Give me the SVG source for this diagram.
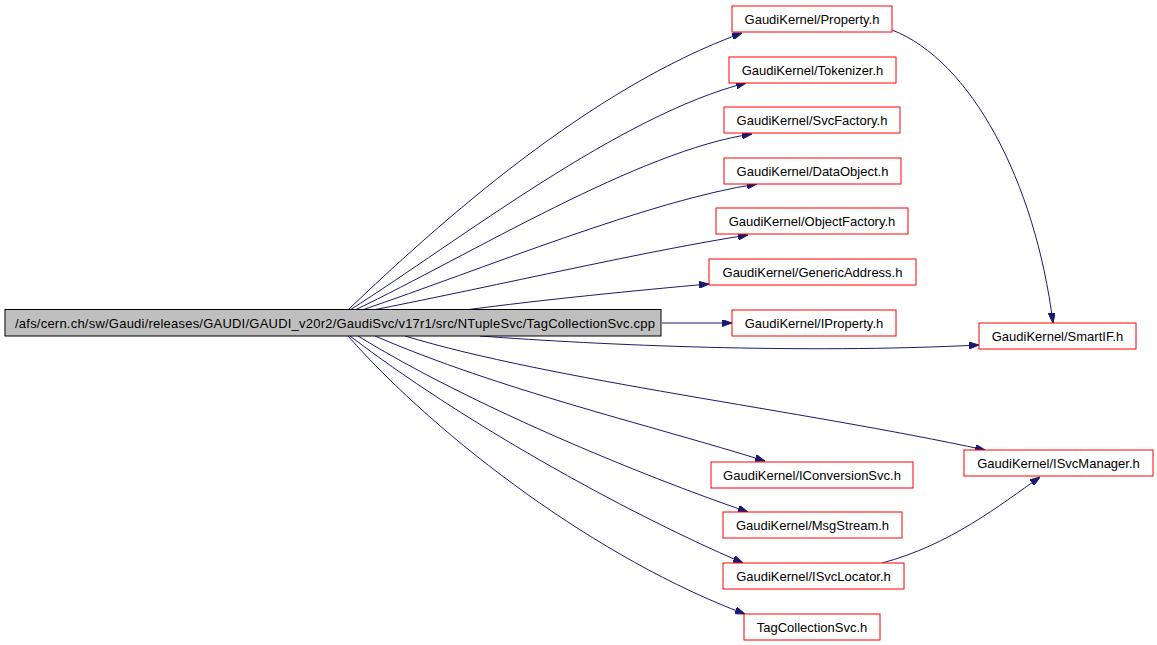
<svg xmlns="http://www.w3.org/2000/svg" width="1157" height="645" viewBox="0 0 1157 645">
<style>
.n rect{fill:#ffffff;stroke:#ff0000;stroke-width:1}
.m rect{fill:#bfbfbf;stroke:#000000;stroke-width:1}
text{font-family:"Liberation Sans",Arial,sans-serif;font-size:13px;fill:#000000;text-anchor:middle}
.e path{fill:none;stroke:#191970;stroke-width:1;marker-end:url(#ah)}
</style>
<defs>
<marker id="ah" viewBox="0 0 10 7" refX="10" refY="3.5" markerWidth="10" markerHeight="7" markerUnits="userSpaceOnUse" orient="auto">
<path d="M0,0 L10,3.5 L0,7 z" fill="#191970" stroke="#191970"/>
</marker>
</defs>
<rect width="1157" height="645" fill="#ffffff"/>
<g class="e" id="edges">
<path d="M348,310 C440,222 590,88 742,33"/>
<path d="M350,310 C460,240 620,115 746,83"/>
<path d="M355,310 C470,255 640,150 752,134"/>
<path d="M362,310 C480,270 650,200 757,184"/>
<path d="M373,310 C500,285 650,250 748,235"/>
<path d="M465,310 C540,300 640,290 709,284"/>
<path d="M662,323 L732,323"/>
<path d="M480,336 C600,345 800,354 979,345"/>
<path d="M405,336 C550,380 800,410 985,450"/>
<path d="M375,336 C500,390 650,425 765,461"/>
<path d="M358,336 C470,405 640,475 748,512"/>
<path d="M350,336 C460,420 620,510 743,563"/>
<path d="M348,336 C440,440 600,560 745,614"/>
<path d="M892,30 C970,60 1035,180 1053,323"/>
<path d="M882,563 C950,545 1000,505 1040,477"/>
</g>
<g class="m" id="main"><rect x="5" y="309.5" width="656" height="26.5"/><text x="335" y="327.5" textLength="640">/afs/cern.ch/sw/Gaudi/releases/GAUDI/GAUDI_v20r2/GaudiSvc/v17r1/src/NTupleSvc/TagCollectionSvc.cpp</text></g>
<g class="n" id="property"><rect x="732" y="6" width="160" height="26"/><text x="812" y="23.5">GaudiKernel/Property.h</text></g>
<g class="n" id="tokenizer"><rect x="729" y="57" width="167" height="26"/><text x="812.5" y="74.5">GaudiKernel/Tokenizer.h</text></g>
<g class="n" id="svcfactory"><rect x="724" y="107" width="176" height="26"/><text x="812" y="124.5">GaudiKernel/SvcFactory.h</text></g>
<g class="n" id="dataobject"><rect x="724" y="158" width="177" height="26"/><text x="812.5" y="175.5">GaudiKernel/DataObject.h</text></g>
<g class="n" id="objectfactory"><rect x="716" y="208" width="192" height="26"/><text x="812" y="225.5">GaudiKernel/ObjectFactory.h</text></g>
<g class="n" id="genericaddress"><rect x="709" y="259" width="207" height="26"/><text x="812.5" y="276.5">GaudiKernel/GenericAddress.h</text></g>
<g class="n" id="iproperty"><rect x="732" y="310" width="164" height="26"/><text x="814" y="327.5">GaudiKernel/IProperty.h</text></g>
<g class="n" id="smartif"><rect x="979" y="323" width="157" height="26"/><text x="1057.5" y="340.5">GaudiKernel/SmartIF.h</text></g>
<g class="n" id="isvcmanager"><rect x="964" y="450" width="189" height="26"/><text x="1058.5" y="467.5">GaudiKernel/ISvcManager.h</text></g>
<g class="n" id="iconversionsvc"><rect x="711" y="462" width="202" height="26"/><text x="812" y="479.5">GaudiKernel/IConversionSvc.h</text></g>
<g class="n" id="msgstream"><rect x="723" y="512" width="179" height="26"/><text x="812.5" y="529.5">GaudiKernel/MsgStream.h</text></g>
<g class="n" id="isvclocator"><rect x="723" y="563" width="181" height="26"/><text x="813.5" y="580.5">GaudiKernel/ISvcLocator.h</text></g>
<g class="n" id="tagcollectionsvc"><rect x="744" y="614" width="136" height="26"/><text x="812" y="631.5">TagCollectionSvc.h</text></g>
</svg>
